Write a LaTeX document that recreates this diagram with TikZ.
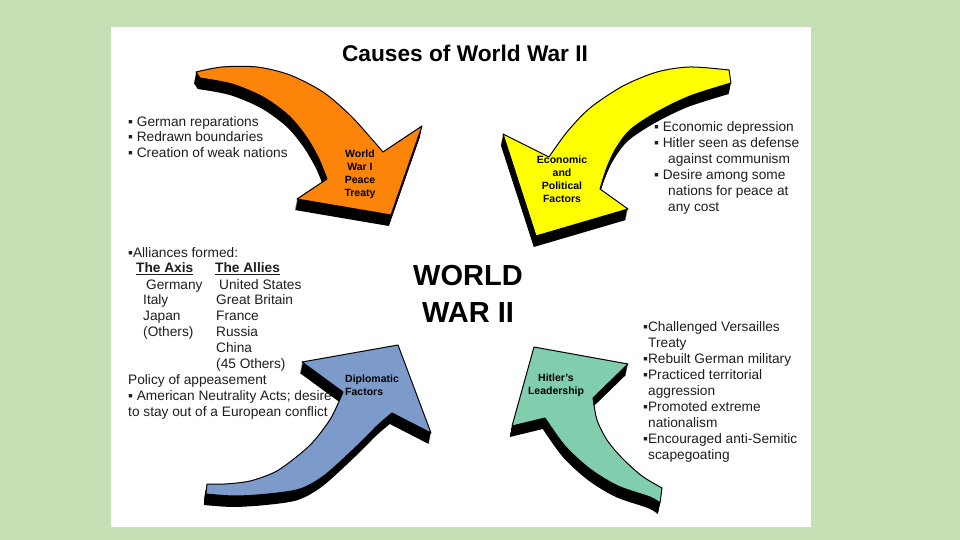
\documentclass[tikz,border=0pt]{standalone}
\usepackage{fontspec}
\setmainfont{Liberation Sans}
\definecolor{bgc}{RGB}{197,224,180}
\definecolor{orangec}{RGB}{252,132,8}
\definecolor{yellowc}{RGB}{255,255,0}
\definecolor{bluec}{RGB}{124,154,202}
\definecolor{greenc}{RGB}{128,206,174}
\definecolor{txtc}{RGB}{30,30,30}
\begin{document}
\begin{tikzpicture}[x=1pt,y=-1pt]
\tikzset{
 listtxt/.style={anchor=west, inner sep=0pt, font=\fontsize{13.7}{16}\selectfont, text=txtc, text height=9.5pt, text depth=2.5pt},
 lbl/.style={font=\bfseries\fontsize{10.5}{13}\selectfont, align=center, inner sep=0pt, text=black},
 body/.style={draw=black, line width=1pt, line join=round},
}
\useasboundingbox (0,0) rectangle (960,540);
\fill[bgc] (0,0) rectangle (960,540);
\fill[white] (111,27) rectangle (811,527);

\def\orangeshape{plot[smooth] coordinates {(196,72) (222,67) (257,67) (290,75) (323,92) (350,115) (370,137) (383,152)} -- (422,126) -- (391,215) -- (297,199) -- plot[smooth] coordinates {(327,179) (318,157) (305,135) (288,115) (263,97) (232,84) (200,78)} -- cycle}
\def\yellowshape{plot[smooth] coordinates {(729,70) (690,67) (657,72) (623,86) (590,108) (567,132) (549,157)} -- (503,134) -- (536,236) -- (628,209) -- plot[smooth] coordinates {(600,189) (606,170) (615,150) (630,130) (657,112) (690,96) (731,83)} -- cycle}
\def\blueshape{(398,345) -- (431,433) -- plot[smooth] coordinates {(392,413) (378,425) (358,445) (325,475) (300,489) (268,494) (235,496) (206,494)} -- plot[smooth] coordinates {(207,484) (225,484) (250,481) (275,472) (295,458) (313,442) (331,418) (343,392)} -- (302,362) -- cycle}
\def\greenshape{(534,347) -- (628,364) -- plot[smooth] coordinates {(593,398) (597,420) (607,440) (622,458) (642,476) (662,488)} -- plot[smooth] coordinates {(660,503) (650,497) (618,486) (590,469) (565,446) (545,418)} -- (512,426) -- cycle}

\foreach \sh in {1,...,11}{
  \fill[black,shift={(-0.2*\sh,\sh)}] \orangeshape;
  \fill[black,shift={(-0.2*\sh,\sh)}] \yellowshape;
  \fill[black,shift={(-0.2*\sh,\sh)}] \blueshape;
  \fill[black,shift={(-0.2*\sh,\sh)}] \greenshape;
}
\filldraw[body, fill=orangec] \orangeshape;
\filldraw[body, fill=yellowc] \yellowshape;
\filldraw[body, fill=bluec] \blueshape;
\filldraw[body, fill=greenc] \greenshape;

\node[lbl] (wwone) at (360,174) {World\\War I\\Peace\\Treaty};
\node[lbl] (econ) at (562,179) {Economic\\and\\Political\\Factors};
\node[lbl, align=left, anchor=west] (dipl) at (345,385) {Diplomatic\\Factors};
\node[lbl] (hitler) at (556,385) {Hitler’s\\Leadership};

\node[font=\bfseries\fontsize{22.7}{26}\selectfont, text=black] (title) at (465,53) {Causes of World War II};
\node[font=\bfseries\fontsize{29}{37}\selectfont, align=center, text=black] (ww2) at (468,294) {WORLD\\WAR II};

% top left list
\node[listtxt] (tl1) at (128,123) {▪ German reparations};
\node[listtxt] (tl2) at (128,138) {▪ Redrawn boundaries};
\node[listtxt] (tl3) at (128,154) {▪ Creation of weak nations};

% top right list
\node[listtxt] (tr1) at (654,128) {▪ Economic depression};
\node[listtxt] (tr2) at (654,144) {▪ Hitler seen as defense};
\node[listtxt] (tr3) at (668,160) {against communism};
\node[listtxt] (tr4) at (654,176) {▪ Desire among some};
\node[listtxt] (tr5) at (668,192) {nations for peace at};
\node[listtxt] (tr6) at (668,208) {any cost};

% middle left
\node[listtxt] (ml0) at (128,254) {▪Alliances formed:};
\node[listtxt] (axis) at (136,269) {\underline{\textbf{The Axis}}};
\node[listtxt] (allies) at (215,269) {\underline{\textbf{The Allies}}};
\node[listtxt] (ax1) at (146,286) {Germany};
\node[listtxt] (ax2) at (143,301) {Italy};
\node[listtxt] (ax3) at (143,317) {Japan};
\node[listtxt] (ax4) at (143,333) {(Others)};
\node[listtxt] (al1) at (219,286) {United States};
\node[listtxt] (al2) at (216,301) {Great Britain};
\node[listtxt] (al3) at (216,317) {France};
\node[listtxt] (al4) at (216,333) {Russia};
\node[listtxt] (al5) at (216,349) {China};
\node[listtxt] (al6) at (216,365) {(45 Others)};
\node[listtxt] (ml1) at (128,381) {Policy of appeasement};
\node[listtxt] (ml2) at (128,397) {▪ American Neutrality Acts; desire};
\node[listtxt] (ml3) at (128,413) {to stay out of a European conflict};

% bottom right list
\node[listtxt] (br1) at (643,328) {▪Challenged Versailles};
\node[listtxt] (br2) at (648,344) {Treaty};
\node[listtxt] (br3) at (643,360) {▪Rebuilt German military};
\node[listtxt] (br4) at (643,376) {▪Practiced territorial};
\node[listtxt] (br5) at (648,392) {aggression};
\node[listtxt] (br6) at (643,408) {▪Promoted extreme};
\node[listtxt] (br7) at (648,424) {nationalism};
\node[listtxt] (br8) at (643,440) {▪Encouraged anti-Semitic};
\node[listtxt] (br9) at (648,456) {scapegoating};
\end{tikzpicture}
\end{document}
